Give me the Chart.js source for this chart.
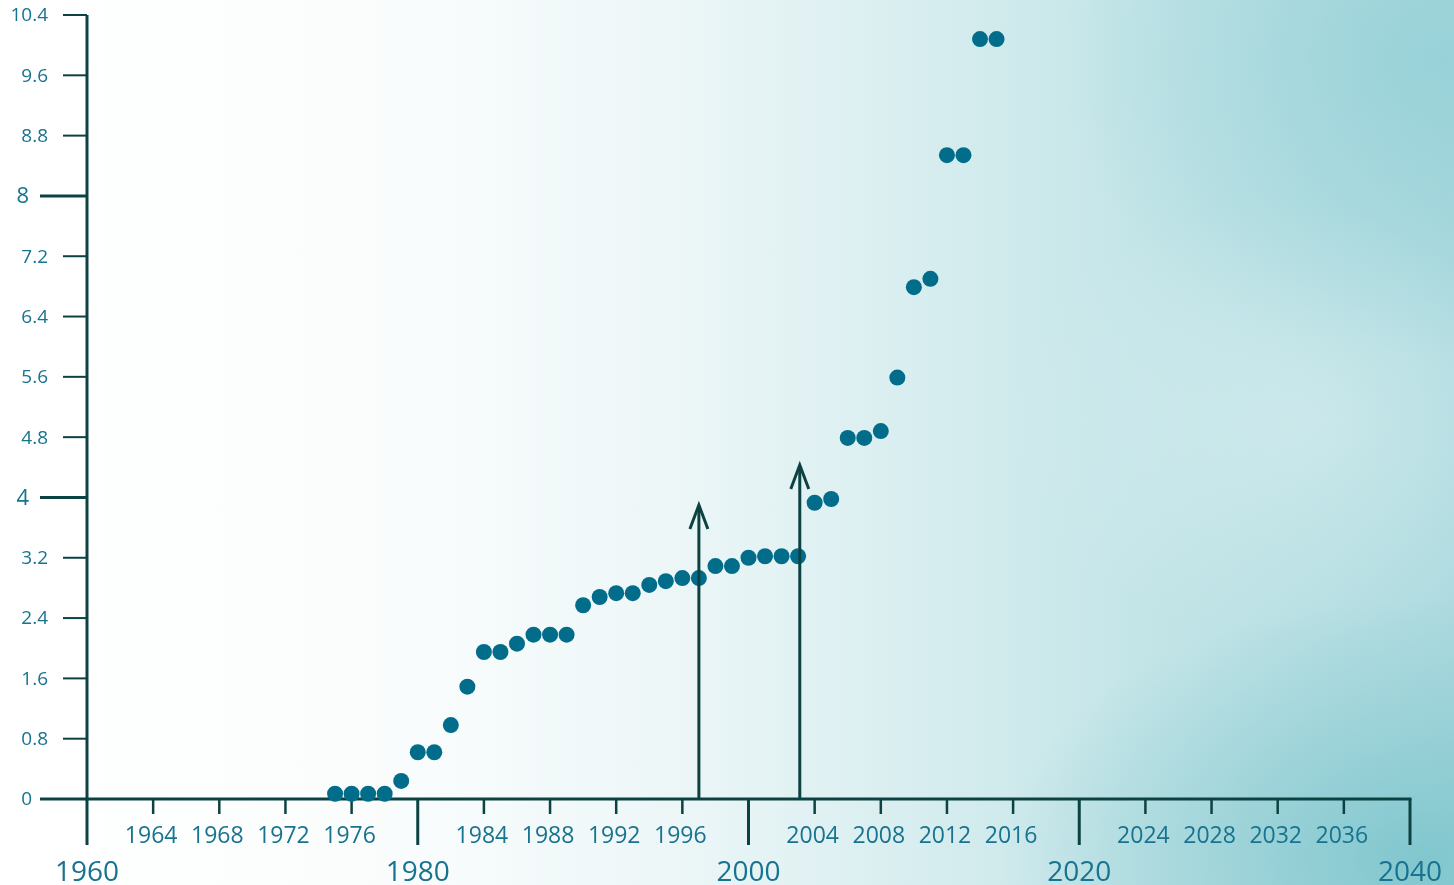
<!DOCTYPE html>
<html>
<head>
<meta charset="utf-8">
<script src="https://cdn.jsdelivr.net/npm/chart.js@4"></script>
<style>
  html, body { margin: 0; padding: 0; }
  body {
    width: 1454px; height: 885px; overflow: hidden;
    background:
      radial-gradient(ellipse 420px 260px at 1420px 860px, rgba(110,190,198,0.7), rgba(110,190,198,0) 100%),
      radial-gradient(ellipse 380px 300px at 1440px 60px, rgba(140,205,212,0.65), rgba(140,205,212,0) 100%),
      radial-gradient(ellipse 300px 220px at 1300px 420px, rgba(215,238,240,0.6), rgba(215,238,240,0) 100%),
      linear-gradient(to right, #ffffff 0%, #fbfdfd 25%, #eef7f8 45%, #d9eef0 62%, #c4e5e8 78%, #addadf 100%);
  }
  canvas { display: block; }
</style>
</head>
<body>
<canvas id="grafico" width="1454" height="885"></canvas>
<script>
// datos
const years = [1975, 1976, 1977, 1978, 1979, 1980, 1981, 1982, 1983, 1984,
               1985, 1986, 1987, 1988, 1989, 1990, 1991, 1992, 1993, 1994,
               1995, 1996, 1997, 1998, 1999, 2000, 2001, 2002, 2003, 2004,
               2005, 2006, 2007, 2008, 2009, 2010, 2011, 2012, 2013, 2014, 2015];
const values = [0.07, 0.07, 0.07, 0.07, 0.24, 0.62, 0.62, 0.98, 1.49, 1.95,
                1.95, 2.06, 2.18, 2.18, 2.18, 2.57, 2.68, 2.73, 2.73, 2.84,
                2.89, 2.93, 2.93, 3.09, 3.09, 3.20, 3.22, 3.22, 3.22, 3.93,
                3.98, 4.79, 4.79, 4.88, 5.59, 6.79, 6.90, 8.54, 8.54, 10.08, 10.08];

// flechas verticales
const arrowYears = [1997, 2003.1];
const arrowTops = [3.9, 4.43];

// ticks
const yTicks = [0, 0.8, 1.6, 2.4, 3.2, 4, 4.8, 5.6, 6.4, 7.2, 8, 8.8, 9.6, 10.4];
const yMajor = [0, 4, 8];
const xTicks = [1960, 1964, 1968, 1972, 1976, 1980, 1984, 1988, 1992, 1996, 2000,
                2004, 2008, 2012, 2016, 2020, 2024, 2028, 2032, 2036, 2040];
const xMajor = [1960, 1980, 2000, 2020, 2040];

const AXIS = '#0d4242';
const LABEL = '#17738f';
const DOT = '#026d8a';
const FONT = '"Open Sans", sans-serif';

const ejes = {
  id: 'ejes',
  beforeDatasetsDraw(chart) {
    const ctx = chart.ctx;
    const x = chart.scales.x, y = chart.scales.y;
    const x0 = x.getPixelForValue(1960), x1 = x.getPixelForValue(2040);
    const y0 = y.getPixelForValue(0), yTop = y.getPixelForValue(10.4);
    ctx.save();
    ctx.strokeStyle = AXIS;
    ctx.lineCap = 'butt';

    // eje y
    ctx.lineWidth = 3;
    ctx.beginPath(); ctx.moveTo(x0, yTop); ctx.lineTo(x0, y0); ctx.stroke();
    // eje x
    ctx.beginPath(); ctx.moveTo(x0 - 1.5, y0); ctx.lineTo(x1 + 1.5, y0); ctx.stroke();

    // ticks y
    ctx.fillStyle = LABEL;
    ctx.textBaseline = 'middle';
    ctx.textAlign = 'right';
    yTicks.forEach(v => {
      const py = y.getPixelForValue(v);
      const major = yMajor.includes(v);
      ctx.lineWidth = major ? 3 : 2;
      ctx.beginPath();
      ctx.moveTo(major ? x0 - 47 : x0 - 24, py);
      ctx.lineTo(x0, py);
      ctx.stroke();
      if (v === 0) {
        ctx.font = '19px ' + FONT;
        ctx.fillText('0', 32, py + 1);
      } else if (major) {
        ctx.font = '22px ' + FONT;
        ctx.fillText(String(v), 29, py + 1);
      } else {
        ctx.font = '19px ' + FONT;
        ctx.fillText(v.toFixed(1), 48, py + 1);
      }
    });

    // ticks x
    ctx.textAlign = 'center';
    xTicks.forEach(v => {
      const px = x.getPixelForValue(v);
      const major = xMajor.includes(v);
      ctx.lineWidth = major ? 3 : 2.5;
      ctx.beginPath();
      ctx.moveTo(px, y0);
      ctx.lineTo(px, major ? y0 + 46 : y0 + 15);
      ctx.stroke();
      if (major) {
        ctx.font = '28px ' + FONT;
        ctx.fillText(String(v), px, y0 + 74);
      } else {
        ctx.font = '23px ' + FONT;
        ctx.fillText(String(v), px - 2, y0 + 37);
      }
    });
    ctx.restore();
  },
  afterDatasetsDraw(chart) {
    const ctx = chart.ctx;
    const x = chart.scales.x, y = chart.scales.y;
    ctx.save();
    ctx.strokeStyle = AXIS;
    ctx.lineWidth = 3;
    arrowYears.forEach((yr, i) => {
      const px = x.getPixelForValue(yr);
      const pb = y.getPixelForValue(0);
      const pt = y.getPixelForValue(arrowTops[i]);
      ctx.beginPath();
      ctx.moveTo(px, pb);
      ctx.lineTo(px, pt + 1);
      ctx.stroke();
      ctx.beginPath();
      ctx.moveTo(px - 9, pt + 24);
      ctx.lineTo(px, pt);
      ctx.lineTo(px + 9, pt + 24);
      ctx.stroke();
    });
    ctx.restore();
  }
};

new Chart(document.getElementById('grafico'), {
  type: 'scatter',
  data: {
    datasets: [{
      data: years.map((yr, i) => ({ x: yr, y: values[i] })),
      backgroundColor: DOT,
      borderWidth: 0,
      pointRadius: 8,
      pointHoverRadius: 8,
      clip: false
    }]
  },
  options: {
    responsive: false,
    animation: false,
    events: [],
    layout: { padding: { left: 87, right: 44, top: 15, bottom: 86 } },
    plugins: { legend: { display: false }, tooltip: { enabled: false } },
    scales: {
      x: { type: 'linear', min: 1960, max: 2040, display: false },
      y: { type: 'linear', min: 0, max: 10.4, display: false }
    }
  },
  plugins: [ejes]
});
</script>
</body>
</html>
